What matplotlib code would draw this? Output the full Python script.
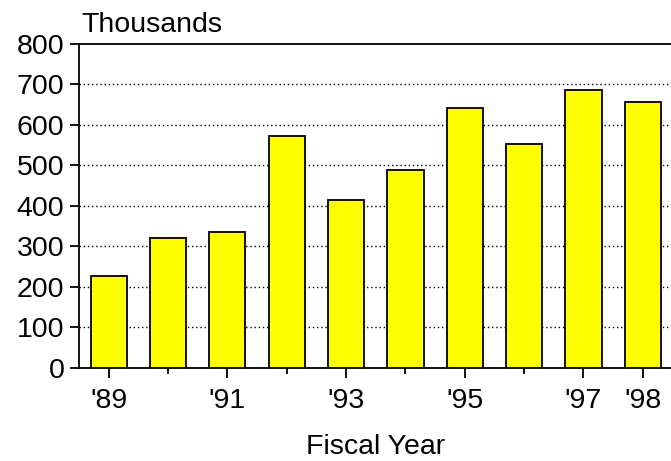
import matplotlib
matplotlib.use("Agg")
import matplotlib.pyplot as plt

years = ["'89", "'90", "'91", "'92", "'93", "'94", "'95", "'96", "'97", "'98"]
values = [227, 321, 336, 572, 414, 489, 642, 552, 686, 657]
labeled = ["'89", "'91", "'93", "'95", "'97", "'98"]
yticks = [0, 100, 200, 300, 400, 500, 600, 700, 800]

plt.rcParams['font.family'] = ['Liberation Sans', 'DejaVu Sans']
FS = 20.5

fig = plt.figure(figsize=(6.71, 4.61), dpi=100)
ax = fig.add_axes([79/671, 1-367.7/461, (672.5-79)/671, (367.7-43.7)/461])

x = list(range(len(years)))
ax.bar(x, values, width=0.61, color='#ffff00', edgecolor='black', linewidth=1.3, zorder=3)

ax.set_xlim(-0.5, len(years)-0.5)
ax.set_ylim(0, 800)
ax.set_yticks(yticks)
ax.set_yticklabels([str(v) for v in yticks], fontsize=FS)

major = [i for i, y in enumerate(years) if y in labeled]
minor = [i for i, y in enumerate(years) if y not in labeled]
ax.set_xticks(major)
ax.set_xticklabels([years[i] for i in major], fontsize=FS)
ax.set_xticks(minor, minor=True)
ax.tick_params(axis='x', which='major', direction='out', length=7, width=1.3, pad=7.5)
ax.tick_params(axis='x', which='minor', direction='out', length=4.5, width=1.3)
ax.tick_params(axis='y', direction='out', length=6.5, width=1.3, pad=4)

for v in yticks[1:-1]:
    ax.axhline(v, color='black', linestyle=(0, (1, 2)), linewidth=1.0, zorder=1)

for s in ['left', 'bottom', 'top']:
    ax.spines[s].set_linewidth(1.3)
ax.spines['right'].set_visible(False)

ax.set_xlabel('Fiscal Year', fontsize=FS, labelpad=14.5)
fig.text(81/671, 1-32/461, 'Thousands', fontsize=FS, ha='left', va='baseline')

fig.savefig('out.png', dpi=100)
